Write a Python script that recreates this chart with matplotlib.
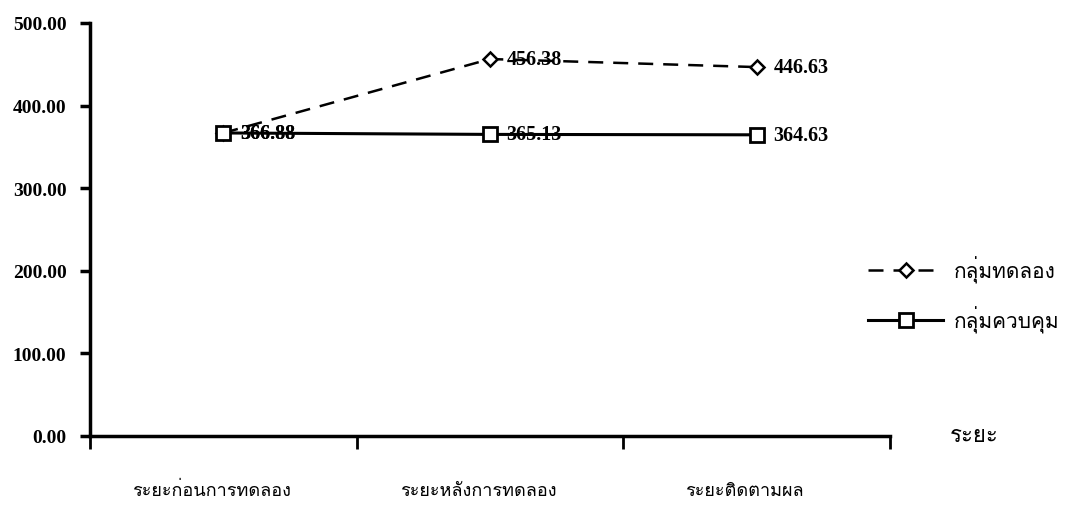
import matplotlib
matplotlib.use("Agg")
import matplotlib.pyplot as plt
from matplotlib import font_manager
from matplotlib.transforms import blended_transform_factory

# ---- data ----
categories = ["ระยะก่อนการทดลอง", "ระยะหลังการทดลอง", "ระยะติดตามผล"]
experimental = [366.88, 456.38, 446.63]
control = [366.88, 365.13, 364.63]
series_names = ["กลุ่มทดลอง", "กลุ่มควบคุม"]
y_ticks = [0, 100, 200, 300, 400, 500]
x_label = "ระยะ"

# ---- find a font with Thai glyphs ----
thai_font = None
try:
    from fontTools.ttLib import TTFont
    seen = set()
    for f in font_manager.fontManager.ttflist:
        if f.name in seen:
            continue
        seen.add(f.name)
        try:
            tt = TTFont(f.fname, fontNumber=0, lazy=True)
            cmap = tt.getBestCmap()
            if cmap and 0x0E01 in cmap and 0x0E21 in cmap:
                thai_font = f.name
                break
        except Exception:
            pass
except Exception:
    pass
thai_family = [thai_font, "DejaVu Sans"] if thai_font else ["DejaVu Sans"]

num_font = "Liberation Serif"

W, H = 1068, 506
fig = plt.figure(figsize=(W / 100, H / 100), dpi=100)
ax = fig.add_axes([90 / W, 1 - 437 / H, (890 - 90) / W, (437 - 24) / H])

xs = [i + 0.5 for i in range(len(categories))]
ax.plot(xs, experimental, color="black", lw=1.8, ls=(0, (6, 4)), marker="D",
        markersize=7, markerfacecolor="white", markeredgecolor="black",
        markeredgewidth=1.8, label=series_names[0], zorder=3)
ax.plot(xs, control, color="black", lw=2.2, ls="-", marker="s",
        markersize=9.5, markerfacecolor="white", markeredgecolor="black",
        markeredgewidth=2, label=series_names[1], zorder=4)

for series in (experimental, control):
    for x, v in zip(xs, series):
        ax.annotate(f"{v:.2f}", (x, v), xytext=(12, 0), textcoords="offset points",
                    va="center", ha="left", fontsize=14.5, fontweight="bold",
                    family=num_font)

ax.set_xlim(0, len(categories))
ax.set_ylim(0, 500)
ax.set_yticks(y_ticks)
ax.set_yticklabels([f"{t:.2f}" for t in y_ticks], family=num_font,
                   fontweight="bold", fontsize=14)
ax.set_xticks(range(len(categories) + 1))
ax.set_xticklabels([])
ax.tick_params(axis="y", direction="out", length=7, width=2.5, pad=10)
ax.tick_params(axis="x", direction="out", length=9.5, width=2)

for s in ["top", "right"]:
    ax.spines[s].set_visible(False)
ax.spines["left"].set_linewidth(2.5)
ax.spines["bottom"].set_linewidth(2.5)

trans = blended_transform_factory(ax.transData, ax.transAxes)
for x, c in zip(xs, categories):
    ax.text(x - 0.045, -0.13, c, transform=trans, ha="center", va="center",
            fontsize=13, family=thai_family)

ax.text(1.075, 0.0, x_label, transform=ax.transAxes, ha="left", va="center",
        fontsize=16, family=thai_family)

leg = fig.legend(*ax.get_legend_handles_labels(), loc="center left",
                 bbox_to_anchor=(868 / W, 1 - 295 / H), frameon=False,
                 borderpad=0, borderaxespad=0,
                 labelspacing=1.1, handlelength=3.6, handletextpad=0.5,
                 prop=font_manager.FontProperties(family=thai_family, size=15))

fig.savefig("out.png", dpi=100)
